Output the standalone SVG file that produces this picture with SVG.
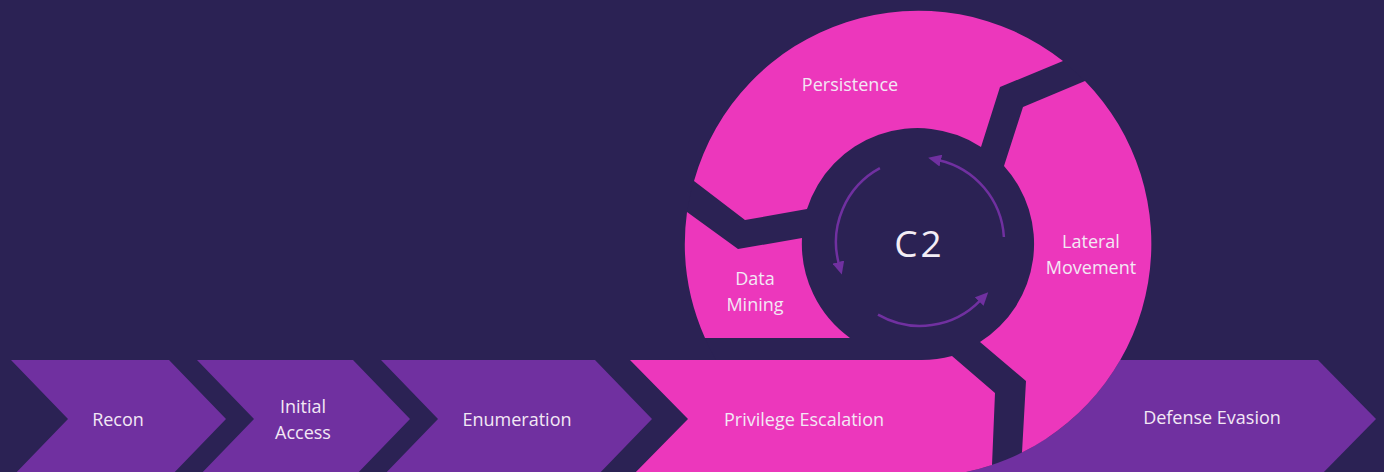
<svg xmlns="http://www.w3.org/2000/svg" width="1384" height="472" viewBox="0 0 1384 472">
  <style>
    .bg { fill: #2b2254; }
    .purple { fill: #7030a0; }
    .pink { fill: #ec37bc; }
    .lbl { font-family: "Open Sans", "Liberation Sans", sans-serif; font-size: 18px; fill: #f3e8f5; text-anchor: middle; }
    .c2 { font-family: "Open Sans", "Liberation Sans", sans-serif; font-size: 37px; fill: #f3eef6; text-anchor: middle; letter-spacing: 3px; }
    .arr { fill: none; stroke: #7030a0; stroke-width: 2.5; }
  </style>
  <defs>
    <marker id="head" markerUnits="userSpaceOnUse" markerWidth="13" markerHeight="12" refX="2" refY="6" orient="auto">
      <path d="M0,0 L13,6 L0,12 Z" fill="#7030a0"/>
    </marker>
  </defs>
  <rect class="bg" x="0" y="0" width="1384" height="472"/>

  <g id="defense-evasion">
    <polygon class="purple" points="900,360 1318,360 1376,419 1318,478 900,478"/>
  </g>
  <circle class="bg" cx="918" cy="244" r="233"/>

  <g id="recon">
    <polygon class="purple" points="11,360 169,360 226,419 169,478 11,478 68,419"/>
    <text class="lbl" x="118" y="426">Recon</text>
  </g>
  <g id="initial-access">
    <polygon class="purple" points="197,360 353,360 410,419 353,478 197,478 254,419"/>
    <text class="lbl" x="303" y="413">Initial</text>
    <text class="lbl" x="303" y="439">Access</text>
  </g>
  <g id="enumeration">
    <polygon class="purple" points="381,360 595,360 652,419 595,478 381,478 438,419"/>
    <text class="lbl" x="517" y="426">Enumeration</text>
  </g>
  <g id="privilege-escalation">
    <path class="pink" d="M630,360 L918,360 A116,116 0 0 0 952,356 L995,393 L992,465 A233,233 0 0 1 966,472 L966,478 L630,478 L688,419 Z"/>
    <text class="lbl" x="804" y="426">Privilege Escalation</text>
  </g>
  <g id="lateral-movement">
    <path class="pink" d="M1085,81 A233,233 0 0 1 1022,452.5 L1026,381 L980,342 A116,116 0 0 0 1004,166 L1023,107 Z"/>
    <text class="lbl" x="1091" y="248">Lateral</text>
    <text class="lbl" x="1091" y="274">Movement</text>
  </g>
  <g id="persistence">
    <path class="pink" d="M694,181 A233,233 0 0 1 1063,61 L1000,87 L981,147 A116,116 0 0 0 807,209 L745,220 Z"/>
    <text class="lbl" x="850" y="91">Persistence</text>
  </g>
  <g id="data-mining">
    <path class="pink" d="M687,212 A233,233 0 0 0 705,338 L850,338 A116,116 0 0 1 802,238 L738,249 Z"/>
    <text class="lbl" x="755" y="285">Data</text>
    <text class="lbl" x="755" y="311">Mining</text>
  </g>
  <g id="defense-evasion-label">
    <text class="lbl" x="1212" y="424">Defense Evasion</text>
  </g>

  <g id="c2">
    <text class="c2" x="919.5" y="257">C2</text>
  </g>

  <g id="connectors">
    <path class="arr" d="M1003.9,237 A84,84 0 0 0 938.9,160.2" marker-end="url(#head)"/>
    <path class="arr" d="M879.9,168.2 A84,84 0 0 0 838.9,264" marker-end="url(#head)"/>
    <path class="arr" d="M878,314.7 A84,84 0 0 0 980.6,300.1" marker-end="url(#head)"/>
  </g>
</svg>
